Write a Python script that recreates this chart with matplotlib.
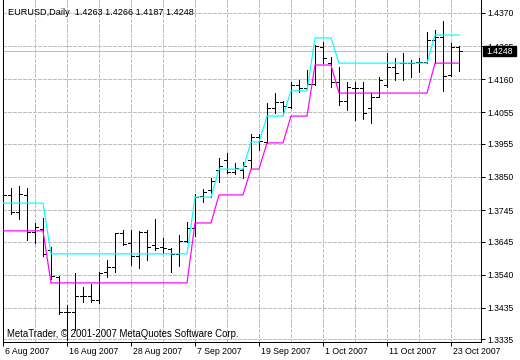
import numpy as np
import matplotlib
matplotlib.use('Agg')
import matplotlib.pyplot as plt
from matplotlib.patches import Rectangle
from matplotlib.transforms import ScaledTranslation

# daily EURUSD bars, 6 Aug 2007 .. 24 Oct 2007
opens = [1.3809, 1.3793, 1.3739, 1.3793, 1.3675, 1.3685, 1.3618, 1.3533, 1.3422, 1.3422,
         1.3472, 1.3472, 1.3460, 1.3549, 1.3564, 1.3672, 1.3641, 1.3599, 1.3675, 1.3634,
         1.3628, 1.3622, 1.3606, 1.3647, 1.3688, 1.3790, 1.3809, 1.3872, 1.3904, 1.3866,
         1.3872, 1.3904, 1.3977, 1.3961, 1.4069, 1.4088, 1.4072, 1.4142, 1.4132, 1.4145,
         1.4262, 1.4211, 1.4151, 1.4091, 1.4132, 1.4132, 1.4069, 1.4104, 1.4142, 1.4199,
         1.4211, 1.4211, 1.4215, 1.4215, 1.4284, 1.4294, 1.4173, 1.4263]
highs = [1.3837, 1.3815, 1.3821, 1.3815, 1.3704, 1.3720, 1.3628, 1.3536, 1.3444, 1.3545,
         1.3501, 1.3511, 1.3549, 1.3587, 1.3672, 1.3682, 1.3682, 1.3679, 1.3682, 1.3717,
         1.3656, 1.3625, 1.3666, 1.3707, 1.3796, 1.3812, 1.3847, 1.3910, 1.3926, 1.3894,
         1.3897, 1.3986, 1.3986, 1.4085, 1.4116, 1.4091, 1.4151, 1.4158, 1.4189, 1.4269,
         1.4278, 1.4230, 1.4199, 1.4151, 1.4151, 1.4151, 1.4116, 1.4167, 1.4243, 1.4227,
         1.4243, 1.4221, 1.4227, 1.4310, 1.4316, 1.4345, 1.4275, 1.4266]
lows = [1.3780, 1.3733, 1.3717, 1.3650, 1.3641, 1.3599, 1.3526, 1.3415, 1.3333, 1.3365,
        1.3453, 1.3453, 1.3450, 1.3533, 1.3549, 1.3634, 1.3571, 1.3561, 1.3587, 1.3618,
        1.3609, 1.3549, 1.3568, 1.3644, 1.3663, 1.3771, 1.3786, 1.3834, 1.3863, 1.3859,
        1.3847, 1.3878, 1.3936, 1.3958, 1.4053, 1.4047, 1.4069, 1.4119, 1.4129, 1.4142,
        1.4211, 1.4135, 1.4078, 1.4062, 1.4031, 1.4034, 1.4021, 1.4104, 1.4135, 1.4158,
        1.4158, 1.4167, 1.4183, 1.4211, 1.4211, 1.4123, 1.4170, 1.4187]
closes = [1.3793, 1.3739, 1.3796, 1.3675, 1.3691, 1.3606, 1.3536, 1.3422, 1.3422, 1.3472,
          1.3472, 1.3460, 1.3545, 1.3564, 1.3672, 1.3637, 1.3599, 1.3675, 1.3628, 1.3625,
          1.3625, 1.3606, 1.3647, 1.3688, 1.3786, 1.3802, 1.3837, 1.3885, 1.3866, 1.3878,
          1.3885, 1.3977, 1.3964, 1.4069, 1.4088, 1.4075, 1.4142, 1.4132, 1.4145, 1.4265,
          1.4227, 1.4151, 1.4091, 1.4135, 1.4132, 1.4053, 1.4104, 1.4158, 1.4199, 1.4180,
          1.4211, 1.4211, 1.4215, 1.4284, 1.4294, 1.4170, 1.4262, 1.4248]

# indicator lines
upper = [1.3767, 1.3767, 1.3767, 1.3767, 1.3767, 1.3767,
         1.3606, 1.3606, 1.3606, 1.3606, 1.3606, 1.3606, 1.3606, 1.3606, 1.3606,
         1.3606, 1.3606, 1.3606, 1.3606, 1.3606, 1.3606, 1.3606, 1.3606, 1.3606,
         1.3786, 1.3786, 1.3786,
         1.3875, 1.3875, 1.3875, 1.3875,
         1.3961, 1.3961,
         1.4043, 1.4043, 1.4043,
         1.4123, 1.4123, 1.4123,
         1.4291, 1.4291, 1.4291,
         1.4211, 1.4211, 1.4211, 1.4211, 1.4211, 1.4211, 1.4211, 1.4211, 1.4211,
         1.4211, 1.4211, 1.4211,
         1.4300, 1.4300, 1.4300, 1.4300]
lower = [1.3679, 1.3679, 1.3679, 1.3679, 1.3679, 1.3679,
         1.3514, 1.3514, 1.3514, 1.3514, 1.3514, 1.3514, 1.3514, 1.3514, 1.3514,
         1.3514, 1.3514, 1.3514, 1.3514, 1.3514, 1.3514, 1.3514, 1.3514, 1.3514,
         1.3704, 1.3704, 1.3704,
         1.3793, 1.3793, 1.3793, 1.3793,
         1.3875, 1.3875,
         1.3958, 1.3958, 1.3958,
         1.4043, 1.4043, 1.4043,
         1.4205, 1.4205, 1.4205,
         1.4116, 1.4116, 1.4116, 1.4116, 1.4116, 1.4116, 1.4116, 1.4116, 1.4116,
         1.4116, 1.4116, 1.4116,
         1.4211, 1.4211, 1.4211, 1.4211]

price_ticks = [1.4370, 1.4265, 1.4160, 1.4055, 1.3955, 1.3850, 1.3745,
               1.3645, 1.3540, 1.3435, 1.3335]
date_labels = ['6 Aug 2007', '16 Aug 2007', '28 Aug 2007', '7 Sep 2007',
               '19 Sep 2007', '1 Oct 2007', '11 Oct 2007', '23 Oct 2007']
title = 'EURUSD,Daily  1.4263 1.4266 1.4187 1.4248'
copyright = 'MetaTrader, \u00a9 2001-2007 MetaQuotes Software Corp.'
last_price = closes[-1]

PX = 0.72  # one pixel in points at dpi 100
FONT = 'Liberation Sans'
GRID = '#C0C0C0'
DASH = (0, (3, 2))

fig = plt.figure(figsize=(5.2, 3.6), dpi=100, facecolor='white')
ax = fig.add_axes([2.5 / 520, 18 / 360, 478.5 / 520, 342 / 360])
ax.set_facecolor('white')

x = np.arange(len(opens))
ax.set_xlim(-0.0625, 59.75)
ax.set_ylim(1.33265, 1.44112)

# grid
for v in price_ticks:
    ax.axhline(v, color=GRID, lw=PX, ls=DASH, zorder=0, antialiased=False)
for i in range(4, len(x), 4):
    ax.axvline(i, color=GRID, lw=PX, ls=DASH, zorder=0, antialiased=False)
ax.axhline(last_price, color=GRID, lw=PX, zorder=0.5, antialiased=False)

# OHLC bars
ax.vlines(x, lows, highs, color='black', lw=PX, zorder=2, antialiased=False)
ax.hlines(opens, x - 0.375, x, color='black', lw=PX, zorder=2, antialiased=False)
ax.hlines(closes, x, x + 0.375, color='black', lw=PX, zorder=2, antialiased=False)

ax.plot(x, upper, color='#00FFFF', lw=1.2 * PX, zorder=3)
ax.plot(x, lower, color='#FF00FF', lw=1.2 * PX, zorder=3)

# axes look
ax.spines['top'].set_visible(False)
for s in ['left', 'right', 'bottom']:
    ax.spines[s].set_color('black')
    ax.spines[s].set_linewidth(PX)

ax.yaxis.tick_right()
ax.set_yticks(price_ticks)
ax.set_yticklabels([f'{v:.4f}' for v in price_ticks], family=FONT)
ax.tick_params(axis='y', direction='out', length=4 * PX, width=PX, pad=2 * PX,
               labelsize=6.2, colors='black')

ax.set_xticks(range(0, len(x), 8))
ax.set_xticklabels(date_labels, family=FONT)
ax.tick_params(axis='x', direction='out', length=4 * PX, width=PX, pad=1 * PX,
               labelsize=6.3, colors='black')
shift = ScaledTranslation(2 / 100, 0, fig.dpi_scale_trans)
for lab in ax.get_xticklabels():
    lab.set_ha('left')
    lab.set_transform(lab.get_transform() + shift)

# current price box
trans = ax.get_yaxis_transform()
box_w = 33 / 478.5
box_h = 10 / 3153
ax.add_patch(Rectangle((1.004, last_price - box_h / 2), box_w, box_h,
                       transform=trans, color='black', clip_on=False, zorder=5))
ax.text(1.004 + box_w / 2, last_price, f'{last_price:.4f}', transform=trans,
        color='white', ha='center', va='center', fontsize=6.2, family=FONT,
        clip_on=False, zorder=6)

fig.text(8 / 520, 1 - 15 / 360, title, family=FONT, fontsize=6.6,
         color='black', va='baseline')
fig.text(7 / 520, 23 / 360, copyright, family=FONT, fontsize=6.9,
         color='black', va='baseline')

fig.savefig('out.png', dpi=100, facecolor='white')
